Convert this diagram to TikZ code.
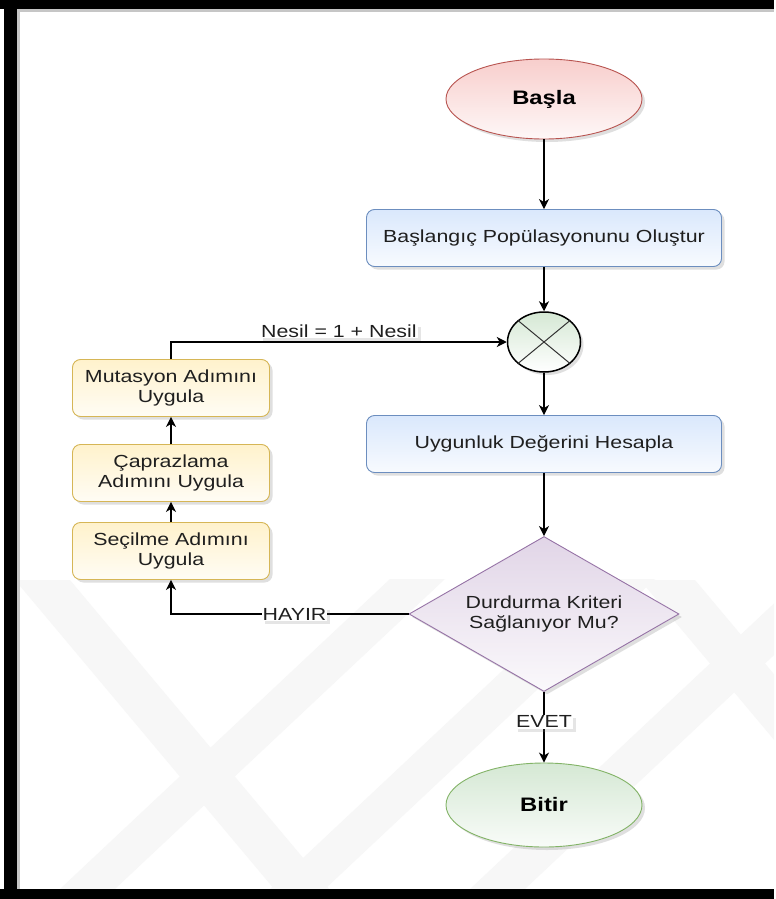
\documentclass[tikz,border=0pt]{standalone}
\usepackage{fontspec}
\setmainfont[FakeStretch=1.22]{Liberation Sans}
\usetikzlibrary{shapes,positioning,calc,shadows,arrows.meta}

\definecolor{redfill}{HTML}{F8CECC}
\definecolor{redline}{HTML}{B85450}
\definecolor{bluefill}{HTML}{DAE8FC}
\definecolor{blueline}{HTML}{6C8EBF}
\definecolor{yellowfill}{HTML}{FFF2CC}
\definecolor{yellowline}{HTML}{D6B656}
\definecolor{purplefill}{HTML}{E1D5E7}
\definecolor{purpleline}{HTML}{9673A6}
\definecolor{greenfill}{HTML}{D5E8D4}
\definecolor{greenline}{HTML}{82B366}

\begin{document}
\begin{tikzpicture}[x=1pt,y=-1pt]

        % Styles of the flow chart, sizes are in pixels of the original
        \tikzset{
            base/.style={font=\fontsize{17.5}{20}\selectfont, text=black!88,
                align=center, inner sep=1pt, line width=.9pt,
                drop shadow={shadow xshift=3pt, shadow yshift=-3pt, opacity=.25}},
            term/.style={base, ellipse, minimum width=196pt, minimum height=80pt,
                font=\bfseries\fontsize{19.5}{22}\selectfont, text=black},
            procbox/.style={base, rectangle, rounded corners=8pt,
                minimum width=355pt, minimum height=57pt},
            stepbox/.style={base, rectangle, rounded corners=8pt,
                draw=yellowline, top color=yellowfill, bottom color=yellowfill!20,
                minimum width=197pt, minimum height=57pt},
            lbl/.style={font=\fontsize{17.5}{20}\selectfont, text=black!88,
                fill=white, inner sep=1pt,
                drop shadow={shadow xshift=3pt, shadow yshift=-3pt, opacity=.2}},
            wmark/.style={fill=gray!6},
            flow/.style={line width=1.3pt, -{Stealth[length=10pt, width=10pt, inset=3pt]}}
        }

        % page, frame and watermark
        \fill[white] (0,0) rectangle (774,899);
        \begin{scope}
            \clip (17,575) rectangle (774,889);
            \foreach \s in {60,270,470}
                \fill[wmark] (\s,889) -- ++(55,0) -- ++(330,-310) -- ++(-55,0) -- cycle;
            \foreach \s in {15,640}
                \fill[wmark] (\s,580) -- ++(55,0) -- ++(260,310) -- ++(-55,0) -- cycle;
        \end{scope}
        \fill[black] (0,0) rectangle (774,9);
        \fill[black] (4,0) rectangle (17,899);
        \fill[black] (0,889) rectangle (774,899);
        \draw[gray!45, line width=2.5pt] (17,10.5) -- (774,10.5);
        \draw[gray!45, line width=2.5pt] (18.5,9) -- (18.5,889);

        % main column
        \node[term, draw=redline, top color=redfill, bottom color=redfill!15]
            (start) at (544,99) {Başla};
        \node[procbox, draw=blueline, top color=bluefill, bottom color=bluefill!20]
            (init) at (544,238) {Başlangıç Popülasyonunu Oluştur};
        \node[base, ellipse, draw=black, line width=1.5pt, top color=greenfill,
            bottom color=white, minimum width=73pt, minimum height=60pt]
            (junc) at (544,342) {};
        \node[procbox, draw=blueline, top color=bluefill, bottom color=bluefill!20]
            (fit) at (544,444) {Uygunluk Değerini Hesapla};
        \node[base, diamond, aspect=1.74, draw=purpleline, top color=purplefill,
            bottom color=purplefill!15, minimum width=270pt, minimum height=155pt]
            (stop) at (544,614) {Durdurma Kriteri\\Sağlanıyor Mu?};
        \node[term, draw=greenline, top color=greenfill, bottom color=greenfill!15,
            minimum height=84pt] (finish) at (544,805) {Bitir};

        % left column
        \node[stepbox] (mut) at (171,388) {Mutasyon Adımını\\Uygula};
        \node[stepbox] (cross) at (171,473) {Çaprazlama\\Adımını Uygula};
        \node[stepbox] (sel) at (171,551) {Seçilme Adımını\\Uygula};

        \draw[line width=1pt, black!80] (junc.north west) -- (junc.south east);
        \draw[line width=1pt, black!80] (junc.north east) -- (junc.south west);

        \begin{scope}[flow]
            \draw (start) -- (init);
            \draw (init) -- (junc);
            \draw (junc) -- (fit);
            \draw (fit) -- (stop);
            \draw (stop) -- node[lbl, pos=.42] {EVET} (finish);
            \draw (stop.west) -| node[lbl, pos=.24] {HAYIR} (sel.south);
            \draw (sel) -- (cross);
            \draw (cross) -- (mut);
            \draw (mut.north) |- node[lbl, pos=.75, above=3pt] {Nesil = 1 + Nesil} (junc.west);
        \end{scope}

        \useasboundingbox (0,0) rectangle (774,899);

\end{tikzpicture}
\end{document}
